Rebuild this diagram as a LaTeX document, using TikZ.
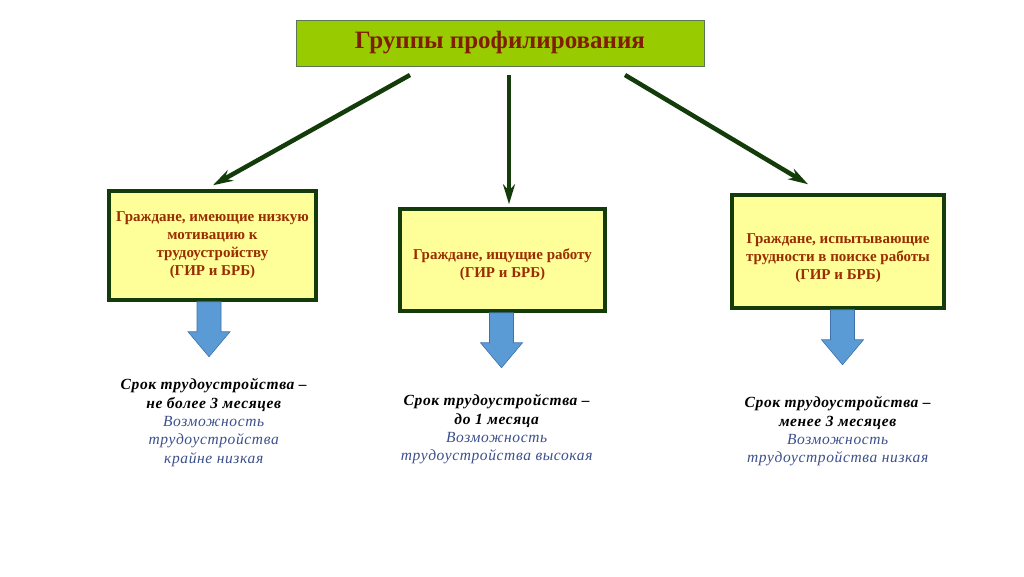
\documentclass[tikz,border=0pt]{standalone}
\usepackage{fontspec}
\setmainfont{Liberation Serif}
\usepackage{xcolor}
\definecolor{title_green}{RGB}{153, 204, 0}
\definecolor{title_red}{RGB}{128, 30, 0}
\definecolor{box_yellow}{RGB}{255, 255, 153}
\definecolor{box_red}{RGB}{153, 45, 0}
\definecolor{dark_green}{RGB}{20, 60, 10}
\definecolor{arrow_blue}{RGB}{91, 155, 213}
\definecolor{arrow_edge}{RGB}{65, 113, 170}
\definecolor{note_blue}{RGB}{60, 80, 140}
\usetikzlibrary{arrows.meta}

\tikzset{
    groupbox/.style={draw=dark_green, line width=3.5pt, fill=box_yellow},
    grouptext/.style={align=center, text=box_red, font=\fontsize{15}{18}\selectfont\bfseries},
    notetext/.style={align=center, font=\fontsize{15.5}{18.3}\selectfont\addfontfeature{LetterSpace=4}},
    grouparrow/.style={-{Stealth[length=20pt, width=12pt]}, line width=4.5pt, dark_green},
    blockdown/.pic={
        \draw[arrow_edge, fill=arrow_blue, line width=0.6pt]
            (-12,0) -- (12,0) -- (12,30) -- (21,30) -- (0,55) -- (-21,30) -- (-12,30) -- cycle;
    }
}

\begin{document}
\begin{tikzpicture}[x=1pt, y=-1pt]
        % Canvas
        \fill[white] (0,0) rectangle (1024,576);
        \useasboundingbox (0,0) rectangle (1024,576);

        % Title
        \node[draw=dark_green!70, line width=0.8pt, fill=title_green, minimum width=408pt,
            minimum height=46pt, text=title_red, font=\fontsize{25}{28}\selectfont\bfseries]
            (title) at (500,43) {Группы профилирования};

        % Groups
        \node[groupbox, minimum width=207pt, minimum height=109pt] (low) at (212.5,245.5) {};
        \node[groupbox, minimum width=205pt, minimum height=102pt] (job) at (502.5,260) {};
        \node[groupbox, minimum width=212pt, minimum height=113pt] (hard) at (838,251.5) {};
        \node[grouptext] (lowname) at (low.center)
            {Граждане, имеющие низкую\\мотивацию к\\трудоустройству\\(ГИР и БРБ)};
        \node[grouptext] (jobname) at ([yshift=-5pt]job.center)
            {Граждане, ищущие работу\\(ГИР и БРБ)};
        \node[grouptext] (hardname) at ([yshift=-7pt]hard.center)
            {Граждане, испытывающие\\трудности в поиске работы\\(ГИР и БРБ)};

        % Arrows
        \coordinate (t1) at (410,75);
        \coordinate (t2) at (509,75);
        \coordinate (t3) at (625,75);
        \draw[grouparrow] (t1) -- ([xshift=0.5pt, yshift=4pt]low.north);
        \draw[grouparrow] (t2) -- ([xshift=6.5pt, yshift=3pt]job.north);
        \draw[grouparrow] (t3) -- ([xshift=-30pt, yshift=9pt]hard.north);

        % Block arrows
        \pic at ([xshift=-3.5pt]low.south) {blockdown};
        \pic at ([xshift=-1pt]job.south) {blockdown};
        \pic at ([xshift=4.5pt]hard.south) {blockdown};

        % Labels
        \node[notetext] (lowtext) at (214,422.5)
            {\textbf{\textit{Срок трудоустройства –}}\\\textbf{\textit{не более 3 месяцев}}\\
            \textcolor{note_blue}{\textit{Возможность}}\\\textcolor{note_blue}{\textit{трудоустройства}}\\
            \textcolor{note_blue}{\textit{крайне низкая}}};
        \node[notetext] (jobtext) at (497,429.5)
            {\textbf{\textit{Срок трудоустройства –}}\\\textbf{\textit{до 1 месяца}}\\
            \textcolor{note_blue}{\textit{Возможность}}\\\textcolor{note_blue}{\textit{трудоустройства высокая}}};
        \node[notetext] (hardtext) at (838,431.5)
            {\textbf{\textit{Срок трудоустройства –}}\\\textbf{\textit{менее 3 месяцев}}\\
            \textcolor{note_blue}{\textit{Возможность}}\\\textcolor{note_blue}{\textit{трудоустройства низкая}}};
    \end{tikzpicture}
\end{document}
